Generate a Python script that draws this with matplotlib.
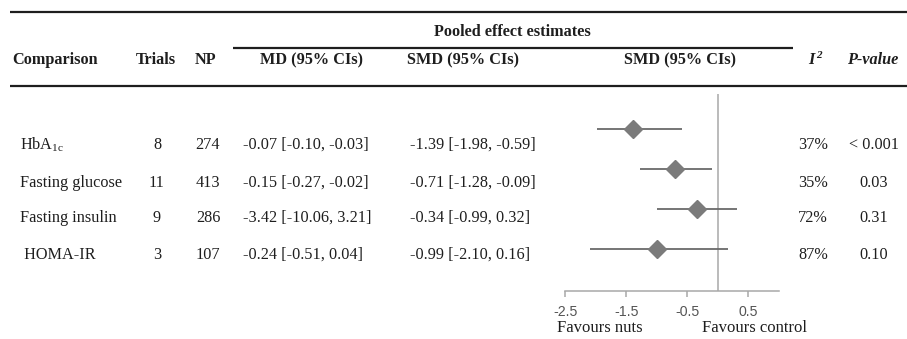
import matplotlib
matplotlib.use("Agg")
import matplotlib.pyplot as plt
from matplotlib.lines import Line2D

plt.rcParams["mathtext.fontset"] = "custom"
plt.rcParams["mathtext.rm"] = "Liberation Serif"
plt.rcParams["mathtext.it"] = "Liberation Serif:italic"
plt.rcParams["mathtext.bf"] = "Liberation Serif:bold"

# ---- data ----
comparisons = [r"HbA$_{\rm 1c}$", "Fasting glucose", "Fasting insulin", " HOMA-IR"]
trials = [8, 11, 9, 3]
n_participants = [274, 413, 286, 107]
md = [-0.07, -0.15, -3.42, -0.24]
md_lo = [-0.10, -0.27, -10.06, -0.51]
md_hi = [-0.03, -0.02, 3.21, 0.04]
smd = [-1.39, -0.71, -0.34, -0.99]
smd_lo = [-1.98, -1.28, -0.99, -2.10]
smd_hi = [-0.59, -0.09, 0.32, 0.16]
i_squared = [37, 35, 72, 87]
p_values = ["< 0.001", "0.03", "0.31", "0.10"]
x_ticks = [-2.5, -1.5, -0.5, 0.5]

W, H = 907, 339
fig = plt.figure(figsize=(W / 100, H / 100), dpi=100)

serif = "Liberation Serif"
ink = "#1e1e1e"
fs = 11.7

# table layer in pixel coordinates
tab = fig.add_axes([0, 0, 1, 1])
tab.set_xlim(0, W)
tab.set_ylim(H, 0)
tab.axis("off")

def rule(x0, x1, y, lw=1.6):
    tab.add_line(Line2D([x0, x1], [y, y], color=ink, lw=lw, solid_capstyle="butt"))

rule(10, 907, 12)
rule(233, 793, 48)
rule(10, 907, 86)

hdr = dict(family=serif, fontsize=fs, fontweight="bold", color=ink, va="center")
tab.text(512, 32, "Pooled effect estimates", ha="center", **hdr)
tab.text(12, 60, "Comparison", ha="left", **hdr)
tab.text(156, 60, "Trials", ha="center", **hdr)
tab.text(206, 60, "NP", ha="center", **hdr)
tab.text(311, 60, "MD (95% CIs)", ha="center", **hdr)
tab.text(463, 60, "SMD (95% CIs)", ha="center", **hdr)
tab.text(680, 60, "SMD (95% CIs)", ha="center", **hdr)
tab.text(811, 60, "I", ha="center", fontstyle="italic", **hdr)
tab.text(816, 55, "2", ha="left", family=serif, fontsize=8, fontweight="bold",
         fontstyle="italic", color=ink, va="center")
tab.text(873, 60, "P-value", ha="center", fontstyle="italic", **hdr)

row_y = [145, 183, 218, 255]
body = dict(family=serif, fontsize=fs, color=ink, va="center")
for i, y in enumerate(row_y):
    tab.text(20, y, comparisons[i], ha="left", **body)
    tab.text(157, y, str(trials[i]), ha="center", **body)
    tab.text(208, y, str(n_participants[i]), ha="center", **body)
    tab.text(243, y, f"{md[i]:.2f} [{md_lo[i]:.2f}, {md_hi[i]:.2f}]", ha="left", **body)
    tab.text(410, y, f"{smd[i]:.2f} [{smd_lo[i]:.2f}, {smd_hi[i]:.2f}]", ha="left", **body)
    tab.text(813, y, f"{i_squared[i]}%", ha="center", **body)
    tab.text(874, y, p_values[i], ha="center", **body)

# forest plot
x0_px, x1_px, top_px, bot_px = 565.3, 779.0, 94.0, 291.0
fp = fig.add_axes([x0_px / W, (H - bot_px) / H, (x1_px - x0_px) / W, (bot_px - top_px) / H])
fp.set_facecolor("none")
fp.set_xlim(-2.5, 1.0)
fp.set_ylim(-0.05, -0.05 + (bot_px - top_px) / 40.0)
ypos = [4, 3, 2, 1]
fp.axvline(0, color="#a8a8a8", lw=1.1, zorder=1)
for i, y in enumerate(ypos):
    fp.plot([smd_lo[i], smd_hi[i]], [y, y], color="#6a6a6a", lw=1.3, zorder=2,
            solid_capstyle="butt")
    fp.plot(smd[i], y, marker="D", ms=9.5, color="#7b7b7b", mec="#7b7b7b", zorder=3)

for s in ["top", "right", "left"]:
    fp.spines[s].set_visible(False)
fp.spines["bottom"].set_color("#a8a8a8")
fp.spines["bottom"].set_linewidth(1.1)
fp.set_yticks([])
fp.set_xticks(x_ticks)
fp.set_xticklabels([f"{t:.1f}" for t in x_ticks], family="Liberation Sans",
                   fontsize=10.2, color="#555555")
fp.tick_params(axis="x", direction="out", length=4, width=1.1, color="#a8a8a8", pad=6)

tab.text(600, 328, "Favours nuts", ha="center", family=serif, fontsize=12, color=ink, va="center")
tab.text(754, 328, "Favours control", ha="center", family=serif, fontsize=12, color=ink, va="center")

fig.savefig("out.png", dpi=100)
